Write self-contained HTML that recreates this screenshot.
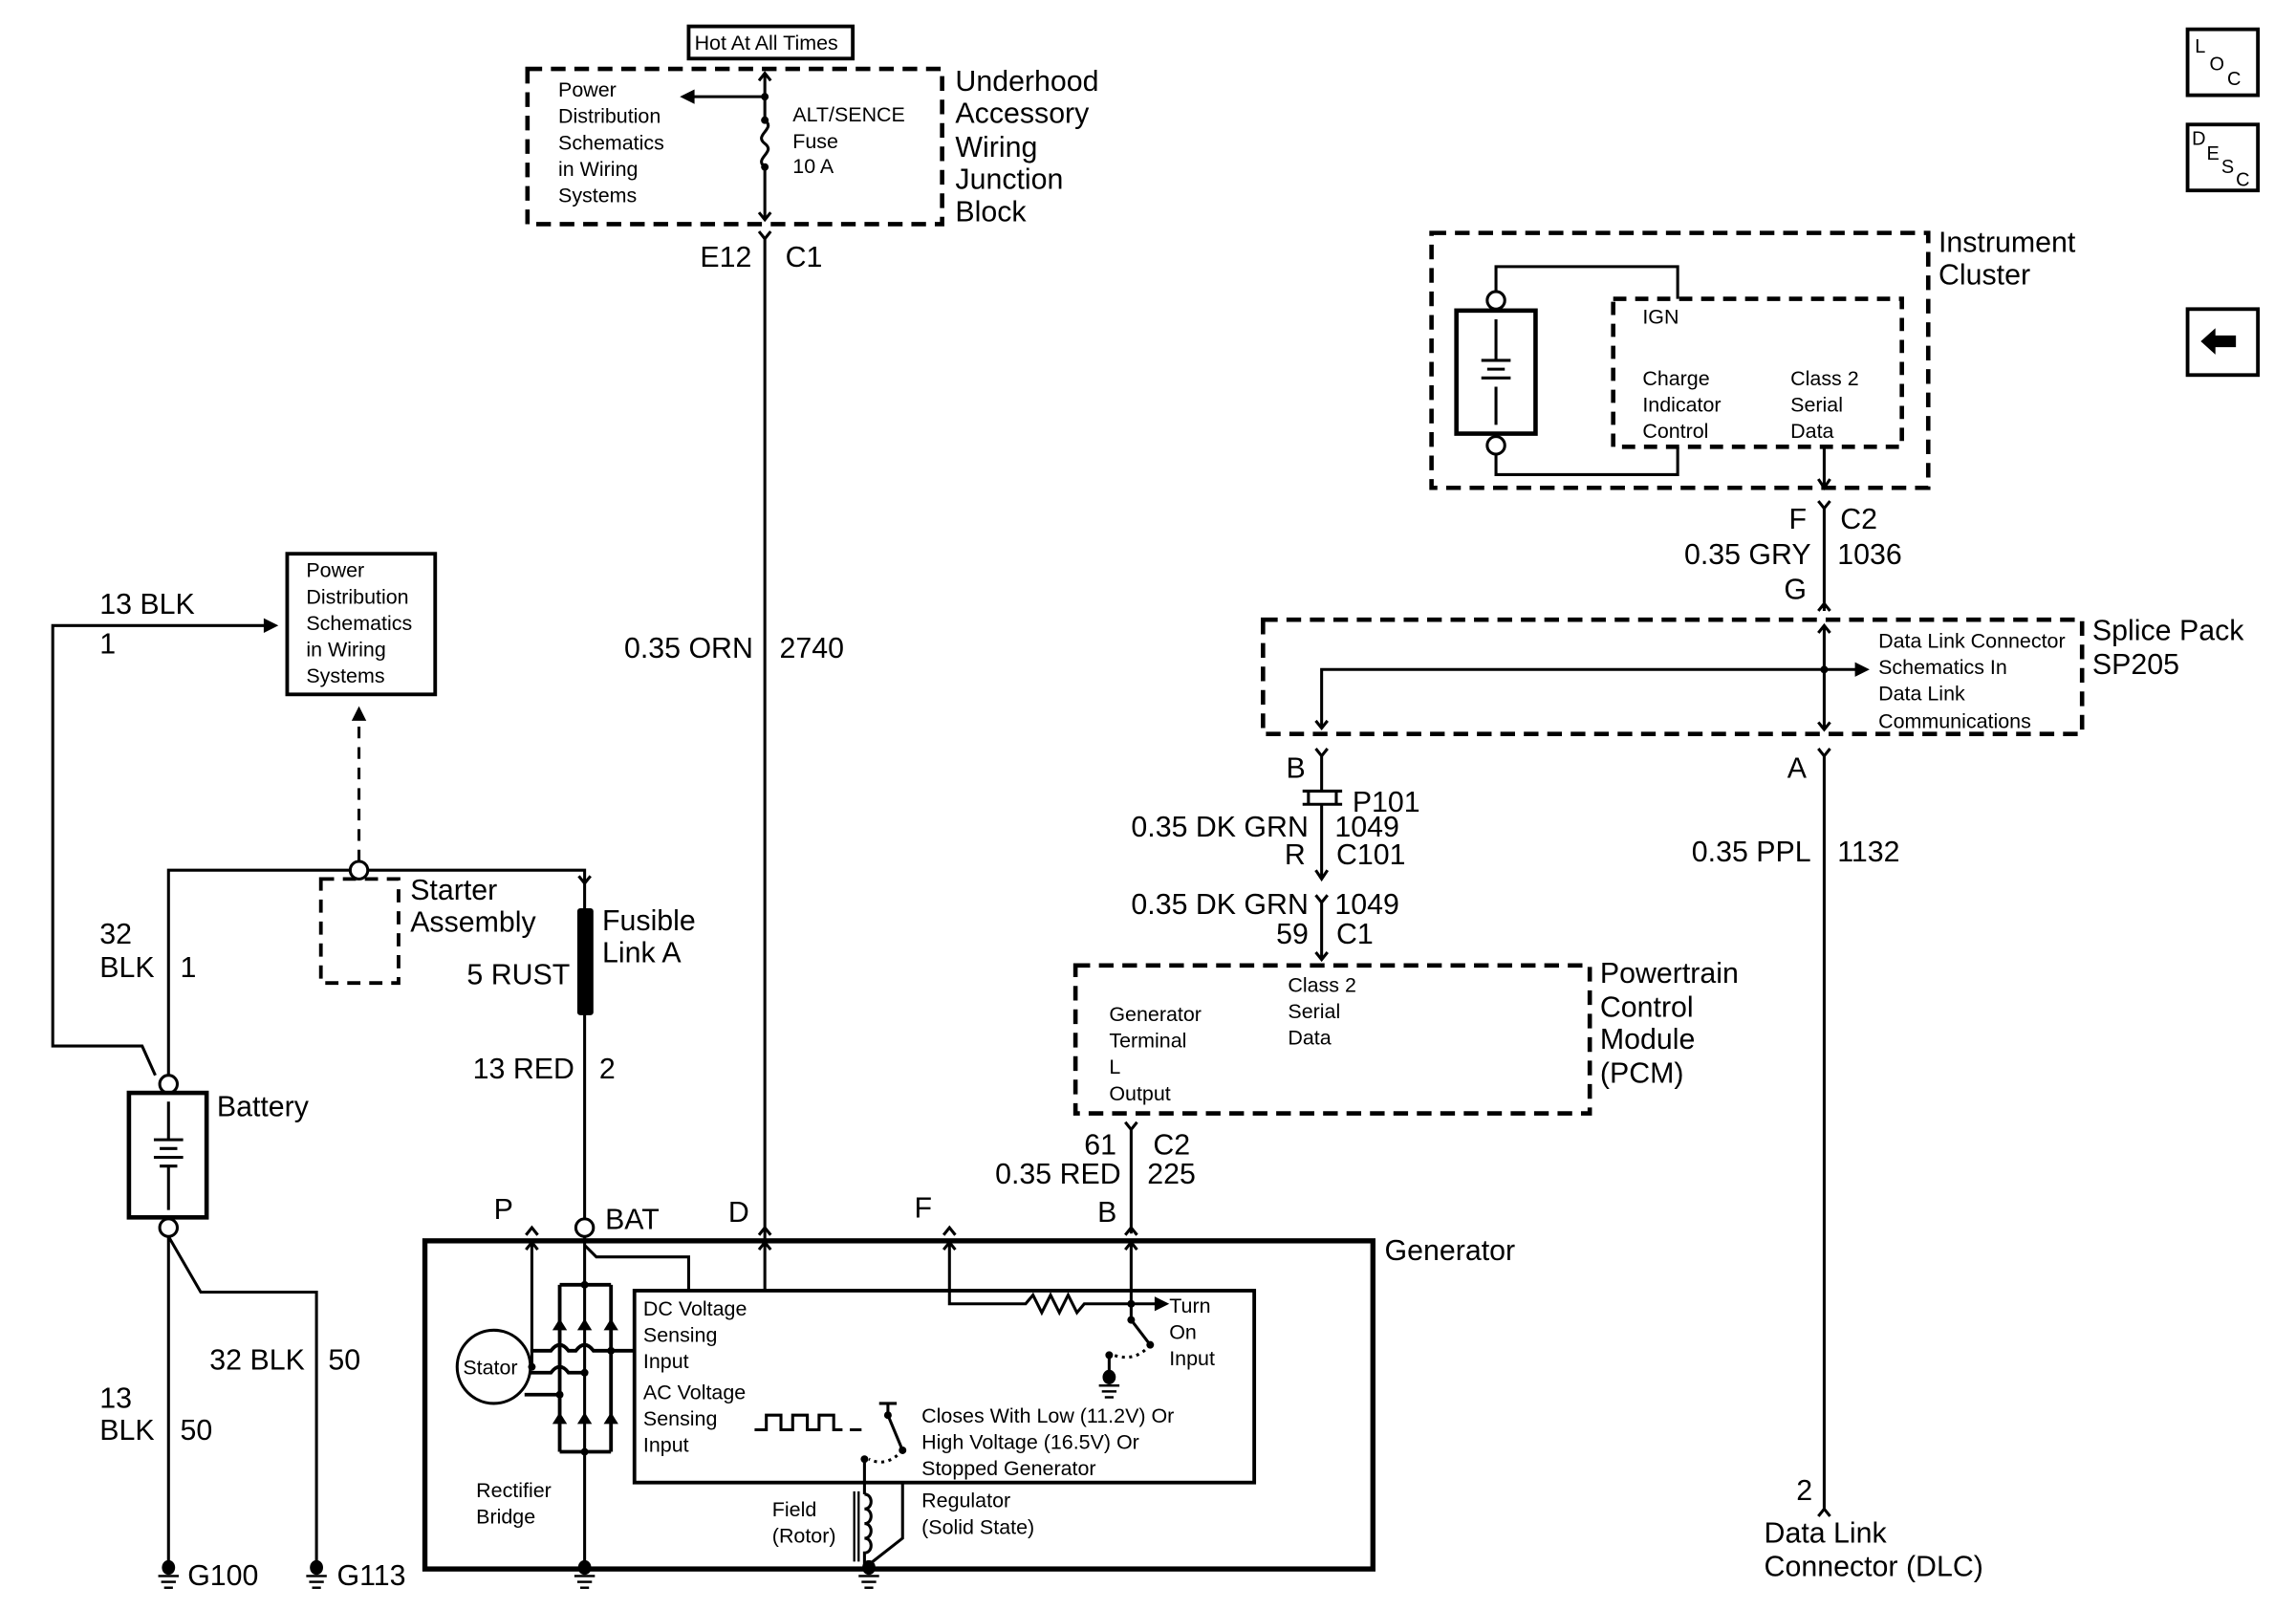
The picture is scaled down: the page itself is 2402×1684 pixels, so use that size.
<!DOCTYPE html>
<html><head><meta charset="utf-8"><style>
html,body{margin:0;padding:0;background:#fff;}
svg{display:block;}
text{font-family:"Liberation Sans",sans-serif;fill:#000;}
.L{font-size:19.8px;}
.S{font-size:14px;}
.r{text-anchor:end;}
</style></head><body>
<svg width="2402" height="1684" viewBox="0 0 1567 1099" preserveAspectRatio="none" xmlns="http://www.w3.org/2000/svg">
<g fill="none" stroke="#000" stroke-width="2">
<rect x="470" y="18" width="112" height="22" stroke-width="2.5"/>
<rect x="360" y="47" width="283" height="106" stroke-width="3" stroke-dasharray="10 6"/>
<path d="M522 50 V82 M522 114 V150"/>
<path d="M518 55 L522 50 L526 55 M518 145 L522 150 L526 145"/>
<path d="M522 66 H472"/>
<path d="M522 82 C530 88 514 92 522 98 C530 104 514 108 522 114" />
<path d="M518 158 L522 163 L526 158 M522 163 V846"/>
<path d="M518 843 L522 838 L526 843"/>
<rect x="196" y="378" width="101" height="96" stroke-width="2.5"/>
<path d="M245 588 V490" stroke-dasharray="8 6"/>
<path d="M106 734 L97 714 H36 V427 H182"/>
<path d="M115 734 V594 H239 M251 594 H399 V622"/>
<path d="M395 598 L399 603 L403 598"/>
<circle cx="245" cy="594" r="6"/>
<rect x="219" y="600" width="53" height="71" stroke-width="2.5" stroke-dasharray="9 6"/>
<path d="M399 692 V832"/>
<rect x="88" y="746" width="53" height="85" stroke-width="3"/>
<circle cx="115" cy="740" r="6"/>
<circle cx="115" cy="838" r="6"/>
<path d="M115 752 V778 M105 778 H125 M109 784 H121 M105 790 H125 M109 796 H121 M115 796 V826"/>
<path d="M115 844 V1066 M115 844 L137 882 H216 V1066"/>
<rect x="290" y="847" width="647" height="224" stroke-width="3.5"/>
<path d="M359 843 L363 838 L367 843 M644 843 L648 838 L652 843 M768 843 L772 838 L776 843"/>
<circle cx="399" cy="838" r="6"/>
<path d="M363 848 V933 M359 853 L363 848 L367 853"/>
<path d="M399 844 V1066"/>
<path d="M399 850 L407 858 H470 V881"/>
<path d="M522 848 V881 M518 853 L522 848 L526 853"/>
<path d="M648 848 V890 H700 L705 884 L711 896 L717 884 L723 896 L729 884 L735 896 L740 890 H790 M644 853 L648 848 L652 853"/>
<path d="M772 848 V901 L785 918 M768 853 L772 848 L776 853"/>
<path d="M785 918 Q775 930 760 925" stroke-dasharray="2 3"/>
<path d="M757 925 V940"/>
<rect x="433" y="881" width="423" height="131" stroke-width="2.5"/>
<path d="M382 877 H417 M382 991 H417 M382 877 V991 M417 877 V991" stroke-width="2.5"/>
<circle cx="337" cy="933" r="25"/>
<path d="M362 922 H376 Q382 914 388 922 H393 Q399 914 405 922 H433" stroke-width="2.5"/>
<path d="M362 937 H376 Q382 929 388 937 H399" stroke-width="2.5"/>
<path d="M358 952 H382" stroke-width="2.5"/>
<path d="M515 976 H523 V966 H533 V976 H541 V966 H551 V976 H559 V966 H569 V976 H575 M580 976 H588"/>
<path d="M600 958 H612 M606 958 V966 L616 990"/>
<path d="M616 990 Q605 1002 593 996" stroke-dasharray="2 3"/>
<path d="M590 996 V1020 M616 1012 V1050 L593 1068"/>
<path d="M590 1020 c6 0 6 10 0 10 c6 0 6 10 0 10 c6 0 6 10 0 10 c6 0 6 10 0 10 V1068"/>
<path d="M583 1018 V1066 M586 1018 V1066" stroke-width="1.5"/>
<rect x="977" y="159" width="339" height="174" stroke-width="3" stroke-dasharray="10 6"/>
<rect x="1101" y="204" width="197" height="101" stroke-width="3" stroke-dasharray="9 6"/>
<rect x="994" y="212" width="54" height="84" stroke-width="3"/>
<circle cx="1021" cy="205" r="6"/><circle cx="1021" cy="304" r="6"/>
<path d="M1021 199 V182 H1145 V204 M1021 310 V324 H1145 V305"/>
<path d="M1021 218 V246 M1011 246 H1031 M1015 252 H1027 M1011 258 H1031 M1021 264 V290"/>
<path d="M1245 305 V333 M1241 327 L1245 333 L1249 327"/>
<path d="M1241 342 L1245 347 L1249 342 M1245 347 V417 M1241 417 L1245 412 L1249 417"/>
<rect x="862" y="423" width="559" height="78" stroke-width="3" stroke-dasharray="10 6"/>
<path d="M1245 427 V498 M1241 432 L1245 427 L1249 432 M1241 493 L1245 498 L1249 493"/>
<path d="M902 497 V457 H1268"/>
<path d="M898 492 L902 497 L906 492"/>
<path d="M898 511 L902 516 L906 511 M902 516 V540 M902 549 V600 M898 594 L902 600 L906 594 M898 611 L902 616 L906 611 M902 616 V655 M898 650 L902 655 L906 650"/>
<path d="M889 540 H916 M889 549 H916 M893 540 V549 M912 540 V549" stroke-width="2"/>
<path d="M1241 511 L1245 516 L1249 511 M1245 516 V1030 M1241 1035 L1245 1030 L1249 1035"/>
<rect x="734" y="659" width="351" height="101" stroke-width="3" stroke-dasharray="10 6"/>
<path d="M768 766 L772 771 L776 766 M772 771 V842"/>
<rect x="1493" y="20" width="48" height="45" stroke-width="2.5"/>
<rect x="1493" y="85" width="48" height="45" stroke-width="2.5"/>
<rect x="1493" y="211" width="48" height="45" stroke-width="2.5"/>
</g>
<g fill="#000" stroke="none">
<path d="M464 66 L474 61 L474 71 Z"/>
<path d="M190 427 L180 422 L180 432 Z"/>
<path d="M245 482 L240 492 L250 492 Z"/>
<path d="M1276 457 L1266 452 L1266 462 Z"/>
<path d="M798 890 L788 885 L788 895 Z"/>
<rect x="394" y="620" width="11" height="73" rx="2"/>
<circle cx="522" cy="66" r="2.6"/><circle cx="522" cy="82" r="2.6"/><circle cx="522" cy="114" r="2.6"/>
<circle cx="1245" cy="457" r="2.6"/>
<circle cx="363" cy="933" r="2.6"/><circle cx="399" cy="877" r="2.6"/><circle cx="399" cy="937" r="2.6"/><circle cx="399" cy="991" r="2.6"/>
<circle cx="417" cy="922" r="2.6"/><circle cx="382" cy="952" r="2.6"/>
<circle cx="772" cy="890" r="2.6"/><circle cx="772" cy="901" r="2.6"/><circle cx="785" cy="918" r="2.6"/><circle cx="757" cy="925" r="2.6"/>
<circle cx="606" cy="966" r="2.6"/><circle cx="616" cy="990" r="2.6"/><circle cx="590" cy="996" r="2.6"/>
<path d="M377 908 L387 908 L382 900 Z M394 908 L404 908 L399 900 Z M412 908 L422 908 L417 900 Z"/>
<path d="M377 972 L387 972 L382 964 Z M394 972 L404 972 L399 964 Z M412 972 L422 972 L417 964 Z"/>
<path d="M1502 233 L1512 224 V229 H1526 V237 H1512 V242 Z"/>
<g id="g1"><ellipse cx="115" cy="1070" rx="4.5" ry="5"/><rect x="108" y="1075" width="14" height="1.6"/><rect x="110" y="1079" width="10" height="1.6"/><rect x="112" y="1083" width="6" height="1.6"/></g>
<use href="#g1" x="101"/><use href="#g1" x="284"/><use href="#g1" x="478"/><use href="#g1" x="642" y="-130"/>
</g>
<g class="S">
<text x="474" y="34" font-size="14">Hot At All Times</text>
<text x="381" y="66">Power</text><text x="381" y="84">Distribution</text><text x="381" y="102">Schematics</text><text x="381" y="120">in Wiring</text><text x="381" y="138">Systems</text>
<text x="541" y="83">ALT/SENCE</text><text x="541" y="101">Fuse</text><text x="541" y="118">10 A</text>
<text x="209" y="394">Power</text><text x="209" y="412">Distribution</text><text x="209" y="430">Schematics</text><text x="209" y="448">in Wiring</text><text x="209" y="466">Systems</text>
<text x="1121" y="221">IGN</text>
<text x="1121" y="263">Charge</text><text x="1121" y="281">Indicator</text><text x="1121" y="299">Control</text>
<text x="1222" y="263">Class 2</text><text x="1222" y="281">Serial</text><text x="1222" y="299">Data</text>
<text x="1282" y="442">Data Link Connector</text><text x="1282" y="460">Schematics In</text><text x="1282" y="478">Data Link</text><text x="1282" y="497">Communications</text>
<text x="757" y="697">Generator</text><text x="757" y="715">Terminal</text><text x="757" y="733">L</text><text x="757" y="751">Output</text>
<text x="879" y="677">Class 2</text><text x="879" y="695">Serial</text><text x="879" y="713">Data</text>
<text x="439" y="898">DC Voltage</text><text x="439" y="916">Sensing</text><text x="439" y="934">Input</text>
<text x="439" y="955">AC Voltage</text><text x="439" y="973">Sensing</text><text x="439" y="991">Input</text>
<text x="798" y="896">Turn</text><text x="798" y="914">On</text><text x="798" y="932">Input</text>
<text x="629" y="971">Closes With Low (11.2V) Or</text><text x="629" y="989">High Voltage (16.5V) Or</text><text x="629" y="1007">Stopped Generator</text>
<text x="527" y="1035">Field</text><text x="527" y="1053">(Rotor)</text>
<text x="629" y="1029">Regulator</text><text x="629" y="1047">(Solid State)</text>
<text x="325" y="1022">Rectifier</text><text x="325" y="1040">Bridge</text>
<text x="316" y="938">Stator</text>
<text x="1498" y="36" font-size="13">L</text><text x="1508" y="48" font-size="13">O</text><text x="1520" y="58" font-size="13">C</text>
<text x="1496" y="99" font-size="13">D</text><text x="1506" y="109" font-size="13">E</text><text x="1516" y="118" font-size="13">S</text><text x="1526" y="127" font-size="13">C</text>
</g>
<g class="L">
<text x="652" y="62">Underhood</text><text x="652" y="84">Accessory</text><text x="652" y="107">Wiring</text><text x="652" y="129">Junction</text><text x="652" y="151">Block</text>
<text class="r" x="513" y="182">E12</text><text x="536" y="182">C1</text>
<text class="r" x="514" y="449">0.35 ORN</text><text x="532" y="449">2740</text>
<text x="68" y="419">13 BLK</text><text x="68" y="446">1</text>
<text x="280" y="614">Starter</text><text x="280" y="636">Assembly</text>
<text x="411" y="635">Fusible</text><text x="411" y="657">Link A</text>
<text class="r" x="389" y="672">5 RUST</text>
<text x="68" y="644">32</text><text x="68" y="667">BLK</text><text x="123" y="667">1</text>
<text x="148" y="762">Battery</text>
<text class="r" x="392" y="736">13 RED</text><text x="409" y="736">2</text>
<text x="68" y="961">13</text><text x="68" y="983">BLK</text><text x="123" y="983">50</text>
<text class="r" x="208" y="935">32 BLK</text><text x="224" y="935">50</text>
<text x="128" y="1082">G100</text><text x="230" y="1082">G113</text>
<text x="337" y="832">P</text><text x="413" y="839">BAT</text><text x="497" y="834">D</text><text x="624" y="831">F</text><text x="749" y="834">B</text>
<text x="945" y="860">Generator</text>
<text x="1323" y="172">Instrument</text><text x="1323" y="194">Cluster</text>
<text class="r" x="1233" y="361">F</text><text x="1256" y="361">C2</text>
<text class="r" x="1236" y="385">0.35 GRY</text><text x="1254" y="385">1036</text>
<text class="r" x="1233" y="409">G</text>
<text x="1428" y="437">Splice Pack</text><text x="1428" y="460">SP205</text>
<text class="r" x="891" y="531">B</text><text class="r" x="1233" y="531">A</text>
<text x="923" y="554">P101</text>
<text class="r" x="893" y="571">0.35 DK GRN</text><text x="911" y="571">1049</text>
<text class="r" x="891" y="590">R</text><text x="912" y="590">C101</text>
<text class="r" x="893" y="624">0.35 DK GRN</text><text x="911" y="624">1049</text>
<text class="r" x="893" y="644">59</text><text x="912" y="644">C1</text>
<text class="r" x="1236" y="588">0.35 PPL</text><text x="1254" y="588">1132</text>
<text x="1092" y="671">Powertrain</text><text x="1092" y="694">Control</text><text x="1092" y="716">Module</text><text x="1092" y="739">(PCM)</text>
<text class="r" x="762" y="788">61</text><text x="787" y="788">C2</text>
<text class="r" x="765" y="808">0.35 RED</text><text x="783" y="808">225</text>
<text class="r" x="1237" y="1024">2</text>
<text x="1204" y="1053">Data Link</text><text x="1204" y="1076">Connector (DLC)</text>
</g>
</svg>
</body></html>
